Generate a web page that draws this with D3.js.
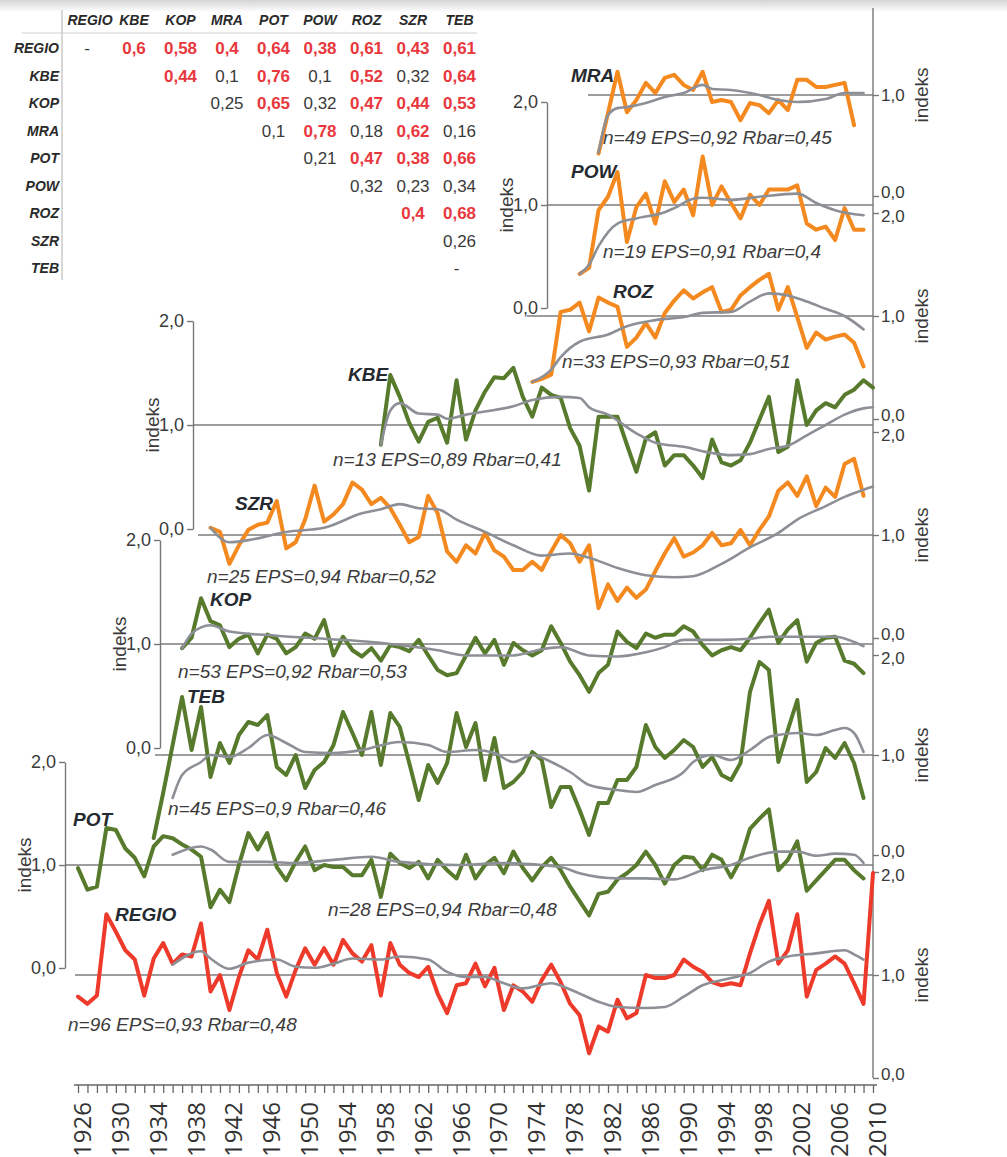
<!DOCTYPE html>
<html>
<head>
<meta charset="utf-8">
<script src="https://cdn.jsdelivr.net/npm/d3@7"></script>
<style>
  body { margin: 0; background: #fff; }
  svg { display: block; font-family: "Liberation Sans", Arial, sans-serif; }
</style>
</head>
<body>
<svg id="chart" width="1007" height="1157"></svg>
<script>
// ---- correlation table ----
const corrNames = ["REGIO", "KBE", "KOP", "MRA", "POT", "POW", "ROZ", "SZR", "TEB"];
const corrRows = [
  ["-", "0,6", "0,58", "0,4", "0,64", "0,38", "0,61", "0,43", "0,61"],
  ["", "", "0,44", "0,1", "0,76", "0,1", "0,52", "0,32", "0,64"],
  ["", "", "", "0,25", "0,65", "0,32", "0,47", "0,44", "0,53"],
  ["", "", "", "", "0,1", "0,78", "0,18", "0,62", "0,16"],
  ["", "", "", "", "", "0,21", "0,47", "0,38", "0,66"],
  ["", "", "", "", "", "", "0,32", "0,23", "0,34"],
  ["", "", "", "", "", "", "", "0,4", "0,68"],
  ["", "", "", "", "", "", "", "", "0,26"],
  ["", "", "", "", "", "", "", "", "-"]
];
const sigLevel = 0.35;

// ---- index series (one value per year from the start year) ----
const mraStart = 1981;
const mraIdx = [0.42,0.82,1.23,0.83,0.95,1.12,1.02,1.17,1.2,1.1,1.05,1.23,0.93,0.95,0.93,0.75,0.92,0.9,0.82,0.95,0.85,1.15,1.15,1.08,1.08,1.1,1.12,0.7];
const powStart = 1979;
const powIdx = [0.33,0.39,0.95,1.08,1.32,0.64,0.98,1.11,0.82,1.23,1.03,1.15,0.9,1.47,1.0,1.18,1.02,0.87,1.1,1.0,1.15,1.15,1.15,1.19,0.82,0.76,0.79,0.66,0.97,0.76,0.76];
const rozStart = 1974;
const rozIdx = [0.36,0.39,0.43,1.04,1.06,1.13,0.85,1.18,1.13,1.09,0.7,0.79,0.93,0.79,1.03,1.15,1.25,1.17,1.23,1.28,1.04,1.06,1.2,1.28,1.35,1.41,1.06,1.28,0.99,0.69,0.84,0.77,0.8,0.82,0.74,0.51];
const kbeStart = 1958;
const kbeIdx = [0.81,1.48,1.27,1.02,0.84,1.03,1.07,0.83,1.43,0.86,1.14,1.32,1.46,1.45,1.55,1.27,1.08,1.36,1.29,1.26,0.97,0.8,0.37,1.08,1.08,1.08,0.81,0.55,0.87,0.93,0.61,0.71,0.71,0.61,0.49,0.86,0.64,0.61,0.66,0.83,1.05,1.27,0.74,0.79,1.43,1.0,1.14,1.21,1.17,1.29,1.34,1.43,1.36];
const szrStart = 1940;
const szrIdx = [1.07,1.03,0.72,0.9,1.05,1.1,1.12,1.33,0.87,0.93,1.15,1.48,1.13,1.2,1.3,1.51,1.44,1.3,1.36,1.26,1.1,0.93,0.98,1.38,1.21,0.84,0.74,0.9,0.82,1.02,0.85,0.79,0.66,0.66,0.74,0.66,0.84,1.0,0.92,0.74,0.9,0.29,0.52,0.36,0.49,0.39,0.47,0.65,0.82,0.97,0.79,0.83,0.9,1.02,0.9,0.92,1.05,0.9,1.05,1.18,1.43,1.51,1.38,1.57,1.28,1.46,1.37,1.69,1.74,1.38];
const kopStart = 1937;
const kopIdx = [0.96,1.06,1.44,1.22,1.18,0.97,1.05,1.09,0.91,1.09,1.05,0.91,0.97,1.1,1.05,1.23,0.89,1.07,0.94,0.88,0.96,0.84,0.99,0.97,0.93,1.04,0.89,0.75,0.7,0.72,0.89,1.06,0.91,1.04,0.8,1.01,0.94,0.89,0.94,1.17,1.01,0.83,0.7,0.54,0.72,0.8,1.12,1.02,0.96,1.1,1.06,1.09,1.09,1.17,1.12,0.99,0.89,0.94,0.97,0.94,1.06,1.2,1.33,1.01,1.14,1.23,0.83,1.01,1.06,1.07,0.84,0.81,0.72];
const tebStart = 1934;
const tebIdx = [0.17,0.62,1.1,1.58,1.05,1.48,0.78,1.12,0.92,1.2,1.33,1.3,1.4,0.88,0.8,1.0,0.67,0.85,0.93,1.1,1.43,1.22,1.0,1.43,0.9,1.42,1.28,0.92,0.55,0.9,0.72,0.92,1.42,1.08,1.32,0.75,1.17,0.67,0.73,0.83,1.03,0.95,0.48,0.68,0.68,0.45,0.2,0.52,0.52,0.75,0.75,0.88,1.3,1.08,0.97,1.05,1.15,1.08,0.88,0.98,0.8,0.75,0.92,1.63,1.93,1.85,0.93,1.25,1.55,0.73,0.83,1.07,0.97,1.12,0.92,0.57];
const potStart = 1926;
const potIdx = [0.97,0.76,0.79,1.36,1.34,1.16,1.07,0.89,1.18,1.28,1.26,1.2,1.15,1.08,0.59,0.76,0.64,1.0,1.31,1.15,1.31,0.98,0.85,1.03,1.18,0.95,1.0,0.98,0.98,0.9,0.9,1.05,0.69,1.11,1.02,0.97,1.03,0.87,1.05,0.95,0.87,1.1,0.87,1.0,1.07,0.92,1.13,0.97,0.85,0.98,1.07,0.95,0.79,0.65,0.51,0.72,0.74,0.86,0.92,1.0,1.13,1.0,0.82,1.0,1.08,1.07,0.95,1.1,1.05,0.88,1.05,1.35,1.45,1.54,0.95,1.05,1.23,0.75,0.85,0.95,1.05,1.05,0.95,0.87];
const regioStart = 1926;
const regioIdx = [0.79,0.72,0.8,1.59,1.42,1.24,1.15,0.8,1.16,1.31,1.11,1.2,1.18,1.5,0.84,1.0,0.66,0.98,1.24,1.15,1.44,1.02,0.79,1.05,1.26,1.1,1.26,1.1,1.34,1.21,1.13,1.29,0.8,1.31,1.1,1.02,0.98,1.08,0.82,0.63,0.9,0.92,1.11,0.89,1.07,0.66,0.9,0.84,0.74,0.95,1.1,0.93,0.72,0.61,0.24,0.5,0.45,0.76,0.58,0.63,1.0,0.97,0.97,1.0,1.15,1.08,1.03,0.93,0.9,0.92,0.9,1.21,1.49,1.72,1.11,1.24,1.59,0.79,1.05,1.11,1.18,1.11,0.92,0.72,1.99];

// ---- smoothed curves, read as [year, value] ----
const mraSmooth = [[1981,0.43],[1982,0.8],[1983,0.87],[1984,0.88],[1986,0.92],[1988,0.98],[1990,1.02],[1992,1.1],[1993,1.06],[1995,1.05],[1998,1.0],[2000,0.95],[2002,0.93],[2005,0.96],[2007,1.02],[2009,1.02]];
const powSmooth = [[1979,0.33],[1980,0.42],[1981,0.6],[1983,0.82],[1985,0.87],[1988,0.93],[1989,0.97],[1991,1.06],[1992,1.07],[1995,1.05],[1998,1.08],[2002,1.11],[2004,1.02],[2006,0.95],[2009,0.9]];
const rozSmooth = [[1974,0.36],[1976,0.48],[1977,0.6],[1979,0.75],[1982,0.82],[1984,0.9],[1987,0.96],[1990,0.99],[1992,1.03],[1995,1.04],[1997,1.14],[1999,1.22],[2001,1.2],[2003,1.14],[2005,1.07],[2007,1.0],[2009,0.87]];
const kbeSmooth = [[1958,0.81],[1959,1.14],[1960,1.21],[1962,1.11],[1964,1.1],[1965,1.06],[1967,1.1],[1969,1.13],[1972,1.18],[1974,1.24],[1977,1.27],[1979,1.26],[1980,1.17],[1982,1.1],[1985,0.92],[1987,0.83],[1990,0.79],[1993,0.73],[1995,0.71],[1997,0.72],[1999,0.77],[2001,0.8],[2003,0.9],[2005,1.0],[2007,1.1],[2009,1.16],[2010,1.17]];
const szrSmooth = [[1940,1.07],[1942,0.93],[1944,0.95],[1948,1.03],[1952,1.07],[1956,1.21],[1958,1.25],[1960,1.3],[1962,1.26],[1964,1.25],[1966,1.15],[1969,1.03],[1972,0.9],[1975,0.8],[1978,0.82],[1980,0.78],[1983,0.68],[1986,0.61],[1989,0.59],[1991,0.6],[1994,0.72],[1997,0.88],[2000,1.02],[2002,1.15],[2005,1.28],[2007,1.37],[2009,1.44],[2010,1.47]];
const kopSmooth = [[1937,0.96],[1938,1.1],[1939,1.16],[1940,1.18],[1942,1.12],[1947,1.08],[1952,1.05],[1957,1.02],[1960,0.99],[1964,0.94],[1967,0.89],[1972,0.89],[1975,0.95],[1977,0.97],[1980,0.89],[1983,0.88],[1986,0.92],[1988,0.97],[1990,1.04],[1994,1.04],[1997,1.05],[1999,1.07],[2003,1.07],[2006,1.07],[2008,1.02],[2009,0.98]];
const tebSmooth = [[1936,0.57],[1937,0.8],[1939,0.93],[1940,1.0],[1942,0.98],[1944,1.07],[1946,1.2],[1948,1.12],[1950,1.03],[1953,1.02],[1956,1.05],[1960,1.13],[1963,1.1],[1965,1.03],[1968,1.05],[1970,1.02],[1972,0.93],[1974,1.0],[1976,0.93],[1978,0.83],[1980,0.7],[1983,0.65],[1985,0.63],[1987,0.7],[1990,0.83],[1991,0.93],[1993,1.0],[1995,0.95],[1997,1.05],[1999,1.18],[2000,1.2],[2002,1.22],[2004,1.2],[2006,1.25],[2007,1.27],[2008,1.22],[2009,1.03]];
const potSmooth = [[1936,1.1],[1939,1.18],[1940,1.15],[1942,1.03],[1946,1.03],[1949,1.02],[1953,1.05],[1957,1.08],[1960,1.03],[1966,1.0],[1971,1.02],[1977,0.98],[1979,0.92],[1983,0.87],[1986,0.87],[1989,0.86],[1992,0.95],[1995,1.0],[1997,1.07],[2000,1.13],[2002,1.13],[2004,1.09],[2006,1.11],[2008,1.1],[2009,1.02]];
const regioSmooth = [[1936,1.1],[1939,1.23],[1940,1.16],[1942,1.06],[1944,1.12],[1947,1.15],[1949,1.08],[1951,1.07],[1953,1.11],[1955,1.16],[1958,1.15],[1960,1.18],[1963,1.15],[1965,1.03],[1967,0.98],[1969,0.98],[1971,0.92],[1973,0.87],[1976,0.92],[1978,0.86],[1981,0.74],[1983,0.69],[1986,0.68],[1988,0.69],[1990,0.79],[1992,0.9],[1995,0.97],[1997,1.02],[1999,1.13],[2001,1.18],[2004,1.21],[2007,1.24],[2008,1.2],[2009,1.15]];

// ---- chronology statistics ----
const statNames = ["MRA", "POW", "ROZ", "KBE", "SZR", "KOP", "TEB", "POT", "REGIO"];
const nTrees  = [49, 19, 33, 13, 25, 53, 45, 28, 96];
const epsVals = [0.92, 0.91, 0.93, 0.89, 0.94, 0.92, 0.9, 0.94, 0.93];
const rbarVals = [0.45, 0.4, 0.51, 0.41, 0.52, 0.53, 0.46, 0.48, 0.48];

// ---- axes labels ----
const indexTicks = [0, 1, 2];
const labelYears = [1926,1930,1934,1938,1942,1946,1950,1954,1958,1962,1966,1970,1974,1978,1982,1986,1990,1994,1998,2002,2006,2010];

// colours
const orange = "#f4891f";
const green = "#587a2d";
const red = "#ee3a2b";
const smoothGray = "#8c9096";
const baseGray = "#7d7d7d";

const fmt = v => String(v).replace(".", ",");
const tickFmt = v => v.toFixed(1).replace(".", ",");

const svg = d3.select("#chart");

// faint shadow at the top edge
const defs = svg.append("defs");
const grad = defs.append("linearGradient").attr("id", "topShade")
  .attr("x1", 0).attr("x2", 0).attr("y1", 0).attr("y2", 1);
grad.append("stop").attr("offset", "0%").attr("stop-color", "#d4d4d4");
grad.append("stop").attr("offset", "100%").attr("stop-color", "#ffffff");
svg.append("rect").attr("width", 1007).attr("height", 12).attr("fill", "url(#topShade)");

// ---- table ----
const tbl = svg.append("g");
const colX = [90, 134, 180.5, 227, 273.5, 320, 366.5, 413, 459.5];
const rowY = d3.range(corrNames.length).map(i => 48 + i * 27.5);

tbl.append("line").attr("x1", 62).attr("x2", 62).attr("y1", 10).attr("y2", 280)
  .attr("stroke", "#bdbdbd").attr("stroke-width", 1.2);
tbl.append("line").attr("x1", 22).attr("x2", 477).attr("y1", 33).attr("y2", 33)
  .attr("stroke", "#cfcfcf").attr("stroke-width", 1.2);

tbl.selectAll("text.head").data(corrNames).enter().append("text")
  .attr("x", (d, i) => colX[i]).attr("y", 25)
  .attr("text-anchor", "middle").attr("font-size", 14)
  .attr("font-weight", "bold").attr("font-style", "italic").attr("fill", "#2a2a2a")
  .text(d => d);

tbl.selectAll("text.rowlab").data(corrNames).enter().append("text")
  .attr("x", 59).attr("y", (d, i) => rowY[i] + 5)
  .attr("text-anchor", "end").attr("font-size", 14)
  .attr("font-weight", "bold").attr("font-style", "italic").attr("fill", "#2a2a2a")
  .text(d => d);

corrRows.forEach((row, r) => {
  row.forEach((val, c) => {
    if (val === "") return;
    const num = parseFloat(val.replace(",", "."));
    const sig = !isNaN(num) && num >= sigLevel;
    tbl.append("text")
      .attr("x", val === "-" ? colX[c] - 3 : colX[c]).attr("y", rowY[r] + 6)
      .attr("text-anchor", "middle").attr("font-size", 17)
      .attr("font-weight", sig ? "bold" : "normal")
      .attr("fill", sig ? "#e8383d" : "#3a3a3a")
      .text(val);
  });
});

// ---- time axis ----
const x = d3.scaleLinear().domain([1926, 2010]).range([78, 873]);
const allYears = d3.range(1926, 2011);

const series = [
  { name: "MRA", start: mraStart, vals: mraIdx, smooth: mraSmooth, color: orange },
  { name: "POW", start: powStart, vals: powIdx, smooth: powSmooth, color: orange },
  { name: "ROZ", start: rozStart, vals: rozIdx, smooth: rozSmooth, color: orange },
  { name: "KBE", start: kbeStart, vals: kbeIdx, smooth: kbeSmooth, color: green },
  { name: "SZR", start: szrStart, vals: szrIdx, smooth: szrSmooth, color: orange },
  { name: "KOP", start: kopStart, vals: kopIdx, smooth: kopSmooth, color: green },
  { name: "TEB", start: tebStart, vals: tebIdx, smooth: tebSmooth, color: green },
  { name: "POT", start: potStart, vals: potIdx, smooth: potSmooth, color: green },
  { name: "REGIO", start: regioStart, vals: regioIdx, smooth: regioSmooth, color: red }
];

// where each panel sits: pixel rows of 0,0 and 1,0, axis side, label spots
const layout = {
  MRA:   { y0: 196, y1: 95,  side: "right", ticks: [0, 1], baseX: 588, lab: [571, 82],  stat: [603, 144] },
  POW:   { y0: 308, y1: 205, side: "left", axisX: 547, lab: [571, 178], stat: [603, 258] },
  ROZ:   { y0: 419, y1: 316, side: "right", ticks: indexTicks, baseX: 527, lab: [613, 298], stat: [562, 368] },
  KBE:   { y0: 529, y1: 425, side: "left", axisX: 193, lab: [348, 381], stat: [333, 466] },
  SZR:   { y0: 638, y1: 535, side: "right", ticks: indexTicks, baseX: 198, lab: [235, 510], stat: [207, 583] },
  KOP:   { y0: 748, y1: 644, side: "left", axisX: 160, lab: [210, 606], stat: [178, 678] },
  TEB:   { y0: 855, y1: 755, side: "right", ticks: indexTicks, baseX: 155, lab: [187, 703], stat: [168, 815] },
  POT:   { y0: 968, y1: 865, side: "left", axisX: 65, lab: [73, 826], stat: [328, 916] },
  REGIO: { y0: 1078, y1: 975, side: "right", ticks: indexTicks, baseX: 75, lab: [115, 921], stat: [68, 1031] }
};

const rightX = 873;
const axisFont = "#3a3a3a";

// continuous right-hand axis line
svg.append("line").attr("x1", rightX).attr("x2", rightX).attr("y1", 8).attr("y2", 1078)
  .attr("stroke", "#777").attr("stroke-width", 1.4);

const gBase = svg.append("g");
const gAxes = svg.append("g");
const gLines = svg.append("g");
const gText = svg.append("g");

function styleAxis(g, size) {
  g.selectAll("text").attr("font-size", size).attr("fill", axisFont)
    .attr("font-family", "'Liberation Sans', Arial, sans-serif");
  g.selectAll("line").attr("stroke", "#777").attr("stroke-width", 1.4);
  g.selectAll("path").attr("stroke", "#777").attr("stroke-width", 1.4);
}

series.forEach(s => {
  const L = layout[s.name];
  const y = d3.scaleLinear().domain([0, 1]).range([L.y0, L.y1]);

  // 1,0 reference line
  const bx = L.side === "left" ? L.axisX : L.baseX;
  gBase.append("line").attr("x1", bx).attr("x2", rightX)
    .attr("y1", y(1)).attr("y2", y(1))
    .attr("stroke", baseGray).attr("stroke-width", 1.5);

  if (L.side === "left") {
    const ax = d3.axisLeft(y.copy().domain([0, 2]).range([L.y0, L.y0 + 2 * (L.y1 - L.y0)]))
      .tickValues(indexTicks).tickFormat(tickFmt).tickSize(6).tickSizeOuter(0).tickPadding(3);
    const g = gAxes.append("g").attr("transform", `translate(${L.axisX},0)`).call(ax);
    styleAxis(g, 18);
    gText.append("text")
      .attr("transform", `translate(${L.axisX - 34},${y(1)}) rotate(-90)`)
      .attr("text-anchor", "middle").attr("font-size", 19).attr("fill", axisFont)
      .text("indeks");
  } else {
    const ax = d3.axisRight(y).tickValues(L.ticks).tickFormat(tickFmt)
      .tickSize(6).tickSizeOuter(0).tickPadding(2);
    const g = gAxes.append("g").attr("transform", `translate(${rightX},0)`).call(ax);
    g.select(".domain").remove();
    styleAxis(g, 17);
    // the stacked 0,0 / 2,0 pairs sit close together: ease them apart a little
    g.selectAll(".tick text").attr("dy", d => d === 0 ? "0.1em" : d === 2 ? "0.5em" : "0.32em");
    gText.append("text")
      .attr("transform", `translate(${rightX + 55},${y(1)}) rotate(-90)`)
      .attr("text-anchor", "middle").attr("font-size", 19).attr("fill", axisFont)
      .text("indeks");
  }

  // index line
  const raw = d3.line().x((d, i) => x(s.start + i)).y(d => y(d));
  gLines.append("path").attr("d", raw(s.vals))
    .attr("fill", "none").attr("stroke", s.color).attr("stroke-width", 4)
    .attr("stroke-linejoin", "round").attr("stroke-linecap", "round");

  // smoothed line
  const sm = d3.line().x(d => x(d[0])).y(d => y(d[1])).curve(d3.curveMonotoneX);
  gLines.append("path").attr("d", sm(s.smooth))
    .attr("fill", "none").attr("stroke", smoothGray).attr("stroke-width", 2.6)
    .attr("stroke-linecap", "round");

  // name
  gText.append("text").attr("x", L.lab[0]).attr("y", L.lab[1])
    .attr("font-size", 19).attr("font-weight", "bold").attr("font-style", "italic")
    .attr("fill", "#252a30").text(s.name);

  // statistics
  const k = statNames.indexOf(s.name);
  gText.append("text").attr("x", L.stat[0]).attr("y", L.stat[1])
    .attr("font-size", 19).attr("font-style", "italic").attr("fill", "#3c3c3c")
    .text(`n=${nTrees[k]} EPS=${fmt(epsVals[k])} Rbar=${fmt(rbarVals[k])}`);
});

// ---- bottom year axis ----
const xAxis = d3.axisBottom(x).tickValues(allYears).tickSize(8).tickSizeOuter(0)
  .tickFormat(d => labelYears.includes(d) ? d : "");
const gx = svg.append("g").attr("transform", "translate(0,1085)").call(xAxis);
gx.selectAll("line").attr("stroke", "#666").attr("stroke-width", 1.3);
gx.select(".domain").attr("stroke", "#666").attr("stroke-width", 1.4)
  .attr("d", "M74,0H877");
gx.selectAll("text")
  .attr("transform", "rotate(-90)")
  .attr("x", -17).attr("y", 0).attr("dy", "0.52em")
  .style("text-anchor", "end")
  .attr("font-family", "'Open Sans', sans-serif")
  .attr("font-size", 24).attr("fill", "#333");
</script>
</body>
</html>
